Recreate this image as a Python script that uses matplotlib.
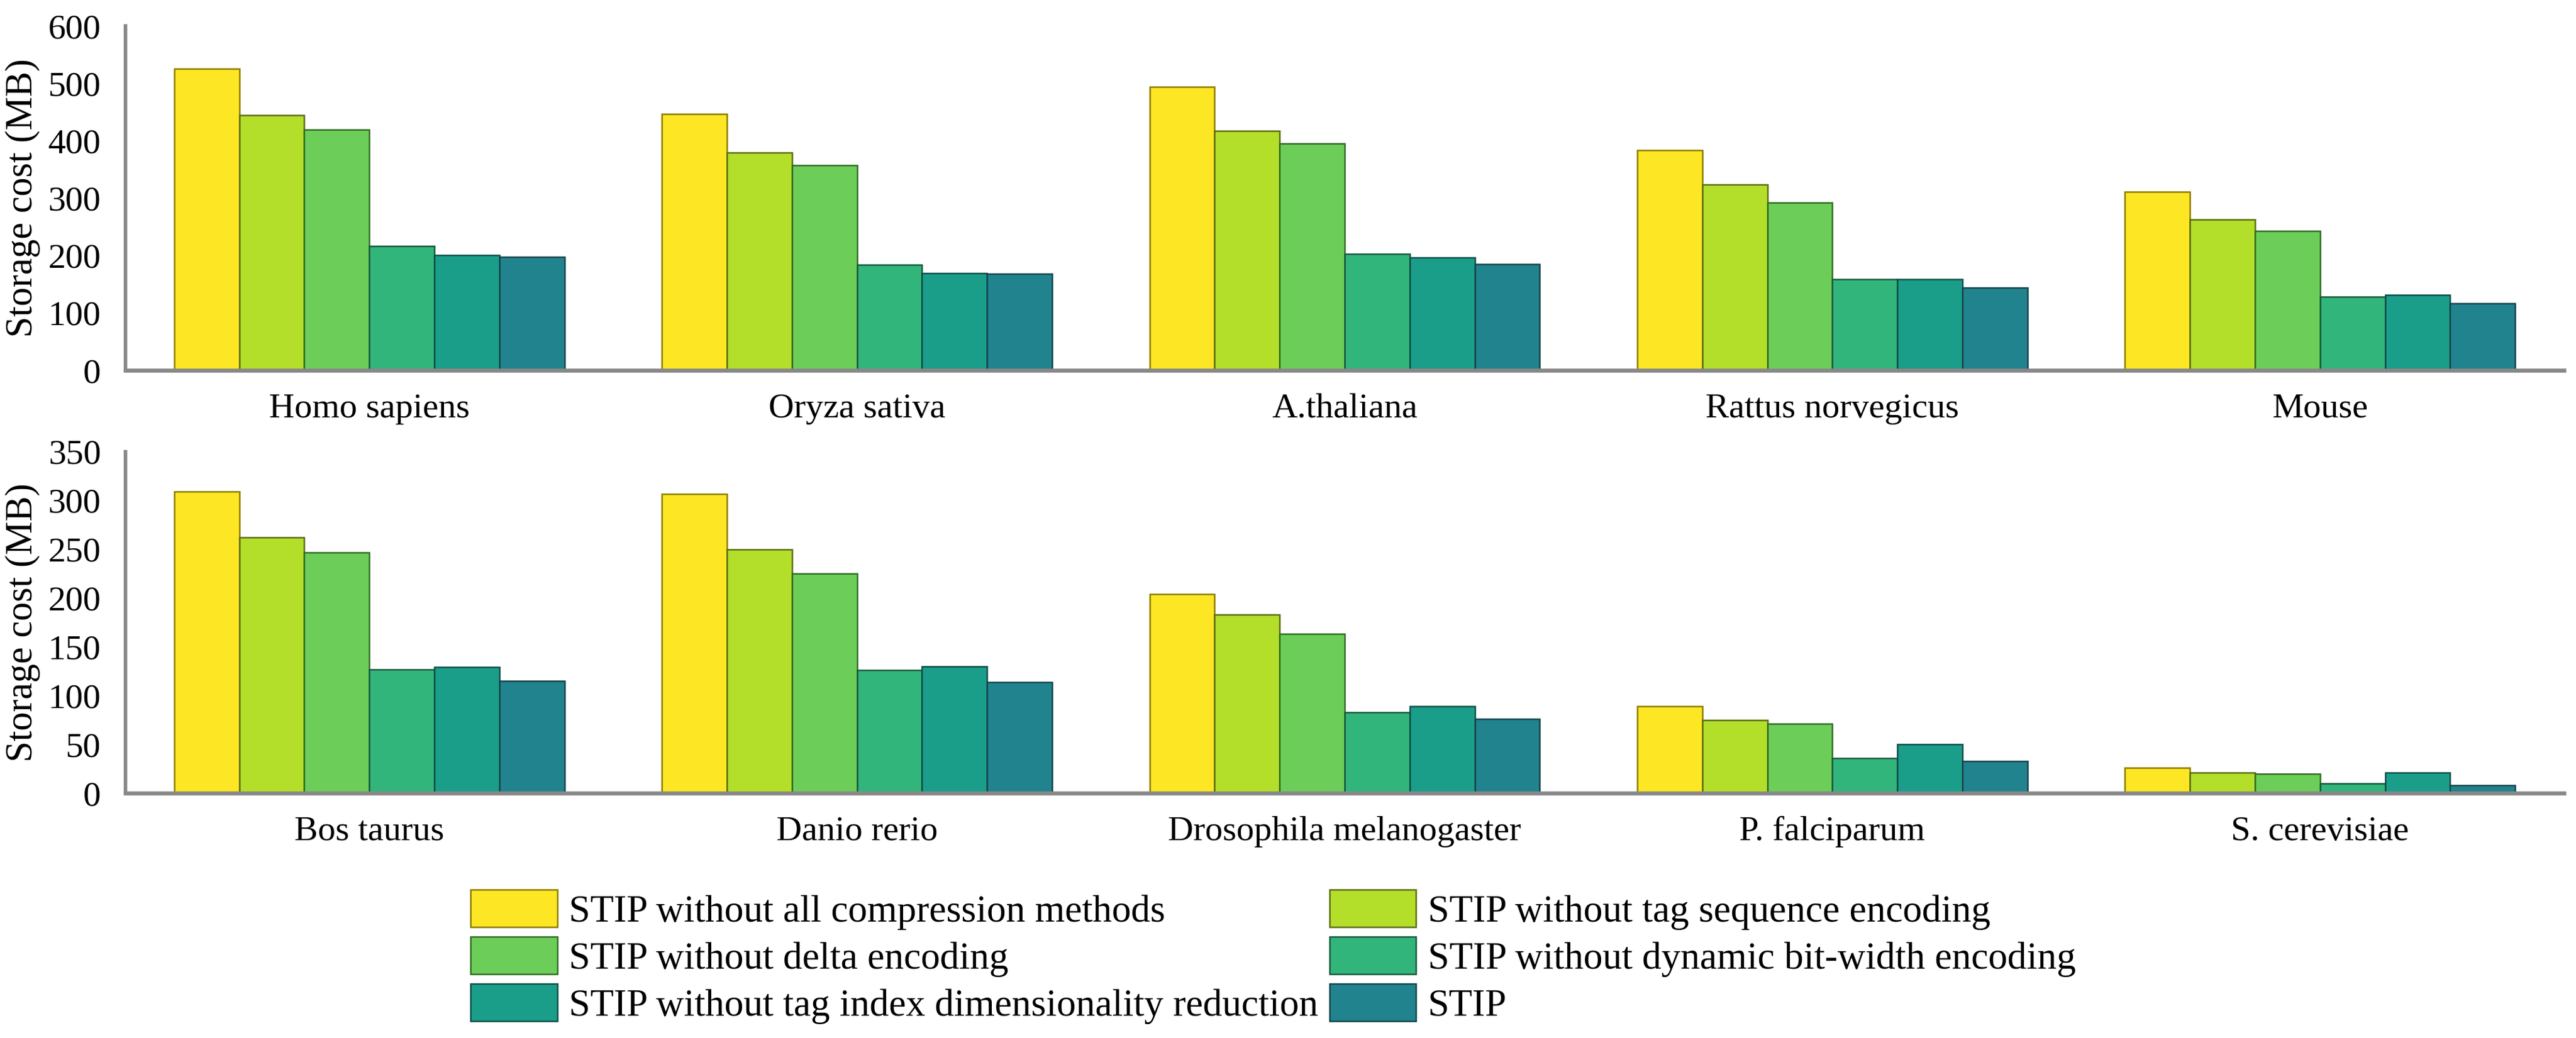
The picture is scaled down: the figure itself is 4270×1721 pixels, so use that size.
import numpy as np
import matplotlib.pyplot as plt

plt.rcParams['font.family'] = ['Liberation Serif', 'DejaVu Serif']

# data
species_top = ['Homo sapiens', 'Oryza sativa', 'A.thaliana', 'Rattus norvegicus', 'Mouse']
species_bottom = ['Bos taurus', 'Danio rerio', 'Drosophila melanogaster', 'P. falciparum', 'S. cerevisiae']

methods = ['STIP without all compression methods',
           'STIP without tag sequence encoding',
           'STIP without delta encoding',
           'STIP without dynamic bit-width encoding',
           'STIP without tag index dimensionality reduction',
           'STIP']

# rows = methods, columns = species
top_values = [
    [525, 447, 494, 384, 311],
    [444, 379, 417, 324, 263],
    [419, 357, 395, 292, 243],
    [217, 184, 203, 159, 128],
    [201, 169, 197, 159, 131],
    [198, 168, 185, 144, 117],
]
bottom_values = [
    [309, 307, 204, 89, 26],
    [262, 250, 183, 75, 21],
    [247, 225, 163, 71, 19.5],
    [127, 126, 83, 36, 9.7],
    [129, 130, 89, 50, 21],
    [115, 114, 76, 33, 8.3],
]

fill_colors = ['#FDE623', '#B3DE29', '#6CCE59', '#31B57B', '#1A9E8A', '#21838D']
edge_colors = ['#8A7A00', '#5A6B14', '#2F6B22', '#17573B', '#0E4D45', '#14434A']

fig = plt.figure(figsize=(4270 / 300, 1721 / 300), dpi=300)
ax_top = fig.add_axes([0.0487, 0.6432, 0.9466, 0.3318])
ax_bot = fig.add_axes([0.0487, 0.2359, 0.9466, 0.3289])

width = 0.8 / 6


def draw_panel(ax, names, values, ymax, step):
    x = np.arange(len(names))
    bars = []
    for i, vals in enumerate(values):
        b = ax.bar(x + (i - 2.5) * width, vals, width, color=fill_colors[i],
                   edgecolor=edge_colors[i], linewidth=0.6, label=methods[i], zorder=2)
        bars.append(b)
    ax.set_xlim(-0.5, len(names) - 0.5)
    ax.set_ylim(0, ymax)
    ax.set_yticks(np.arange(0, ymax + 1, step))
    ax.set_xticks(x)
    ax.set_xticklabels(names)
    for s in ['top', 'right']:
        ax.spines[s].set_visible(False)
    ax.spines['left'].set_color('#888888')
    ax.spines['left'].set_linewidth(1.4)
    ax.spines['bottom'].set_color('#888888')
    ax.spines['bottom'].set_linewidth(1.6)
    ax.spines['bottom'].set_zorder(3)
    ax.tick_params(axis='both', length=0, labelsize=14)
    ax.tick_params(axis='y', pad=9.8)
    ax.tick_params(axis='x', pad=9)
    ax.set_ylabel('Storage cost (MB)', fontsize=15, labelpad=3)
    return bars


bars = draw_panel(ax_top, species_top, top_values, 600, 100)
draw_panel(ax_bot, species_bottom, bottom_values, 350, 50)

# legend laid out row by row like the original
order = [0, 2, 4, 1, 3, 5]
fig.legend([bars[i] for i in order], [methods[i] for i in order],
           loc='upper left', bbox_to_anchor=(0.1827, 0.143), ncol=2,
           frameon=False, fontsize=15.3, handlelength=2.25, handleheight=1.12,
           handletextpad=0.3, columnspacing=0.3, labelspacing=0.18,
           borderpad=0, borderaxespad=0)

fig.savefig('out.png', dpi=300)
